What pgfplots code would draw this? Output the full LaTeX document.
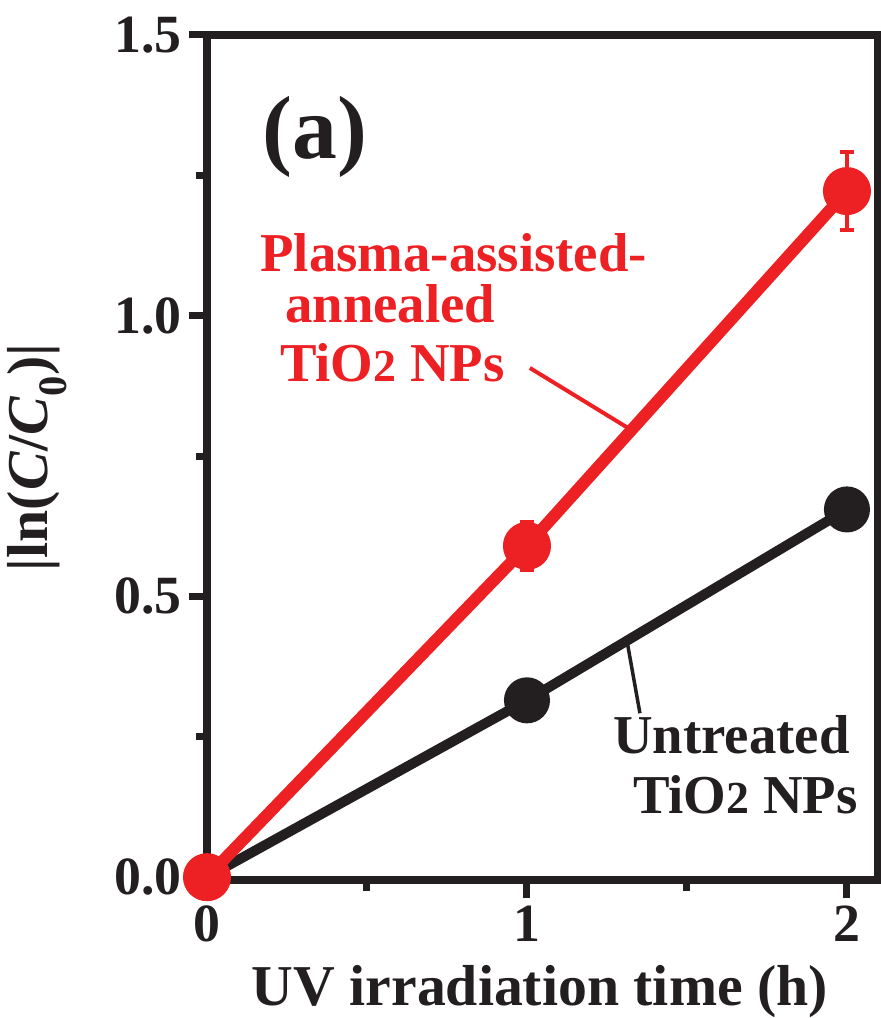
\documentclass[border=0pt]{standalone}
\usepackage{pgfplots}
\pgfplotsset{compat=1.18}
\usepackage{fontspec}
\setmainfont{Liberation Serif}
\definecolor{pred}{RGB}{237,32,36}
\definecolor{pblk}{RGB}{35,31,32}
\begin{document}
\begin{tikzpicture}
\begin{axis}[
  at={(0,0)}, anchor=south west,
  scale only axis,
  width=671bp, height=845bp,
  xmin=0, xmax=2.097, ymin=-0.005, ymax=1.5,
  axis line style={line width=8bp, pblk},
  every tick/.style={line width=7bp, pblk},
  tick align=outside,
  xtick pos=bottom, ytick pos=left,
  major tick length=18bp, minor tick length=11bp,
  xtick={0,1,2}, xticklabels={0,1,2},
  ytick={0,0.5,1,1.5}, yticklabels={0.0,0.5,1.0,1.5},
  minor xtick={0.5,1.5}, minor ytick={0.25,0.75,1.25},
  tick label style={font=\fontsize{54}{60}\selectfont\bfseries, text=pblk},
  xticklabel style={yshift=-4bp},
  yticklabel style={xshift=-4bp},
  xlabel={UV irradiation time (h)},
  ylabel={|ln(\textit{C}/\textit{C}\textsubscript{0})|},
  label style={font=\fontsize{58}{64}\selectfont\bfseries, text=pblk},
  xlabel style={at={(axis description cs:0.496,-0.148)}, anchor=base},
  ylabel style={at={(axis description cs:-0.253,0.5)}, anchor=center},
  clip=false,
]
\addplot[pblk, line width=10bp, mark=*, mark size=18bp, mark options={solid, fill=pblk, draw=none}]
  coordinates {(0,0) (1,0.315) (2,0.655)};
\addplot[pred, line width=12bp, mark=*, mark size=18bp, mark options={solid, fill=pred, draw=none},
  error bars/.cd, y dir=both, y explicit,
  error bar style={line width=4bp, pred},
  error mark options={rotate=90, mark size=7bp, line width=4bp, pred}]
  coordinates {(0,0) +- (0,0) (1,0.59) +- (0,0.042) (2,1.222) +- (0,0.07)};
\draw[pred, line width=4bp] (axis cs:1.009,0.907) -- (axis cs:1.316,0.80);
\draw[pblk, line width=3.5bp] (axis cs:1.3125,0.421) -- (axis cs:1.353,0.292);
\node[anchor=base west, font=\fontsize{55}{60}\selectfont\bfseries, text=pred, inner sep=0pt] at (axis cs:0.166,1.078) {Plasma-assisted-};
\node[anchor=base west, font=\fontsize{55}{60}\selectfont\bfseries, text=pred, inner sep=0pt] at (axis cs:0.244,0.9875) {annealed};
\node[anchor=base west, font=\fontsize{55}{60}\selectfont\bfseries, text=pred, inner sep=0pt] at (axis cs:0.228,0.882) {TiO{\fontsize{46}{50}\selectfont 2} NPs};
\node[anchor=base west, font=\fontsize{55}{60}\selectfont\bfseries, text=pblk, inner sep=0pt] at (axis cs:1.269,0.221) {Untreated};
\node[anchor=base west, font=\fontsize{55}{60}\selectfont\bfseries, text=pblk, inner sep=0pt] at (axis cs:1.331,0.114) {TiO{\fontsize{46}{50}\selectfont 2} NPs};
\node[anchor=center, font=\fontsize{90}{96}\selectfont\bfseries, text=pblk, inner sep=0pt] at (axis cs:0.3375,1.319) {(a)};
\end{axis}
\pgfresetboundingbox
\path (-207bp,-138bp) rectangle (674bp,880bp);
\end{tikzpicture}
\end{document}
